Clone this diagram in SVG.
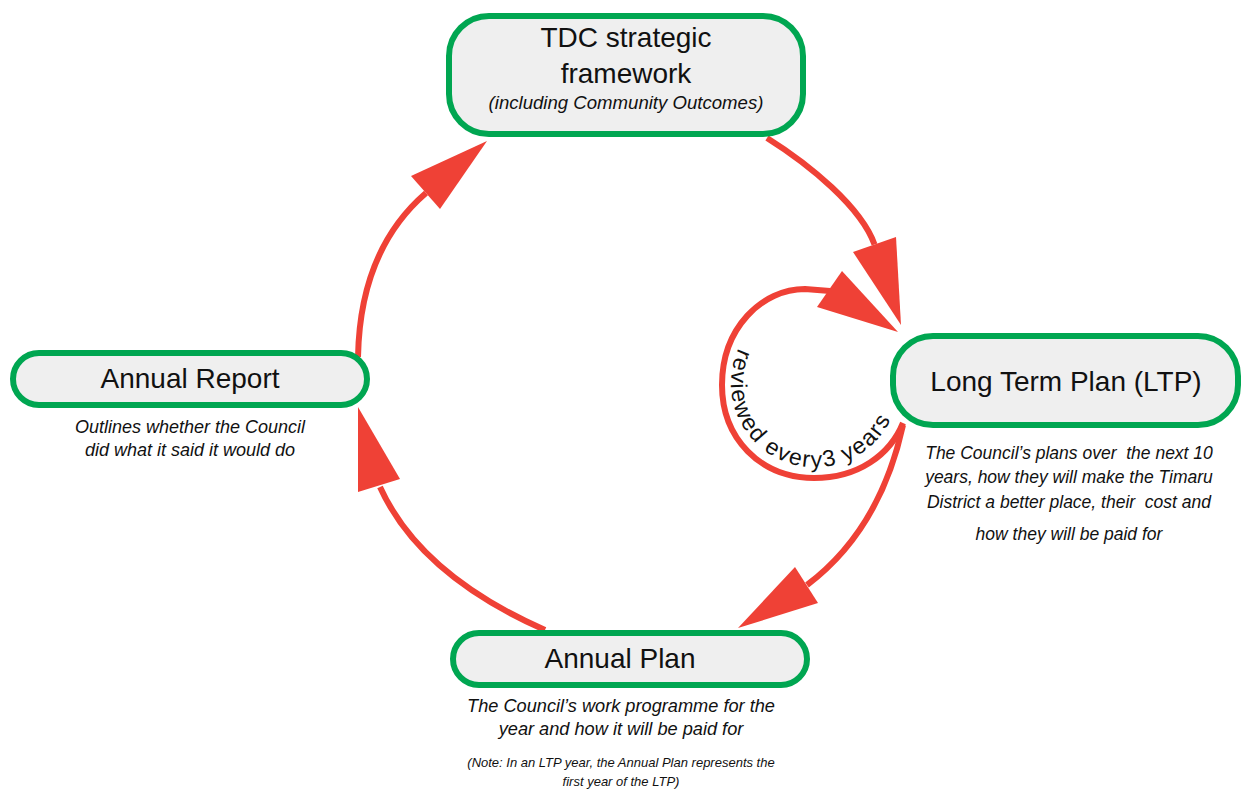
<svg xmlns="http://www.w3.org/2000/svg" width="1241" height="789" viewBox="0 0 1241 789">
<style>
  .box { fill: #efefef; stroke: #00a651; stroke-width: 6; }
  .title { font-family: "Liberation Sans", Arial, sans-serif; font-size: 28px; fill: #111; text-anchor: middle; }
  .desc { font-family: "Liberation Sans", Arial, sans-serif; font-style: italic; font-size: 17.5px; fill: #111; text-anchor: middle; }
  .note { font-family: "Liberation Sans", Arial, sans-serif; font-style: italic; font-size: 13px; fill: #111; text-anchor: middle; }
  .line { fill: none; stroke: #ef4136; stroke-width: 6; }
  .head { fill: #ef4136; }
  .loopLabel { font-family: "Liberation Sans", Arial, sans-serif; font-size: 23px; fill: #111; }
</style>
<defs>
  <path id="loopTextPath" d="M742.3,341 A84,84 0 1 0 896.1,404.7"/>
</defs>
<rect width="1241" height="789" fill="#ffffff"/>

<g id="connectors">
  <!-- TDC -> LTP -->
  <path class="line" d="M767,138 C810,165 861,207 874.5,244.5"/>
  <polygon class="head" points="853,252 896,237 901,325"/>
  <!-- LTP self loop -->
  <path class="line" d="M903,423 C890,455 858,478 814,478 C760,478 722,438 722,385 C722,328 762,289 805,289 L830,291"/>
  <polygon class="head" points="817,307 842,271 898,332"/>
  <text class="loopLabel"><textPath href="#loopTextPath" startOffset="8" textLength="262" lengthAdjust="spacing">reviewed every3 years</textPath></text>
  <!-- LTP -> Annual Plan -->
  <path class="line" d="M903,425 Q880,530 807,585"/>
  <polygon class="head" points="795,567 818,603 738,628"/>
  <!-- Annual Plan -> Annual Report -->
  <path class="line" d="M545,630 Q420,575 380,487"/>
  <polygon class="head" points="358,492 400,479 358,407"/>
  <!-- Annual Report -> TDC -->
  <path class="line" d="M358,357 Q360,250 426,193"/>
  <polygon class="head" points="411,176 440,209 487,141"/>
</g>

<g id="node-tdc">
  <rect class="box" x="449" y="16" width="354" height="118" rx="40" ry="40"/>
  <text class="title" x="626" y="47">TDC strategic</text>
  <text class="title" x="626" y="83">framework</text>
  <text class="desc" x="626" y="109" style="font-size:18.6px">(including Community Outcomes)</text>
</g>

<g id="node-ltp">
  <rect class="box" x="893" y="336" width="345" height="89" rx="40" ry="40"/>
  <text class="title" x="1066" y="391">Long Term Plan (LTP)</text>
  <text class="desc" x="1069" y="459" xml:space="preserve">The Council’s plans over  the next 10</text>
  <text class="desc" x="1069" y="483">years, how they will make the Timaru</text>
  <text class="desc" x="1069" y="508" xml:space="preserve">District a better place, their  cost and</text>
  <text class="desc" x="1069" y="540">how they will be paid for</text>
</g>

<g id="node-annual-plan">
  <rect class="box" x="453" y="633" width="354" height="52" rx="26" ry="26"/>
  <text class="title" x="620" y="668">Annual Plan</text>
  <text class="desc" x="621" y="712" style="font-size:18.2px">The Council’s work programme for the</text>
  <text class="desc" x="621" y="735" style="font-size:18.2px">year and how it will be paid for</text>
  <text class="note" x="621" y="767">(Note: In an LTP year, the Annual Plan represents the</text>
  <text class="note" x="621" y="786">first year of the LTP)</text>
</g>

<g id="node-annual-report">
  <rect class="box" x="13" y="353" width="354" height="52" rx="26" ry="26"/>
  <text class="title" x="190" y="388">Annual Report</text>
  <text class="desc" x="190" y="433" style="font-size:18px">Outlines whether the Council</text>
  <text class="desc" x="190" y="456" style="font-size:18px">did what it said it would do</text>
</g>
</svg>
